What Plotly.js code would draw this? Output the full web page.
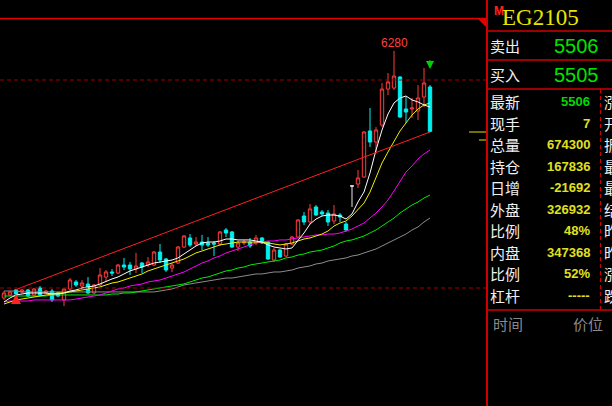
<!DOCTYPE html>
<html><head><meta charset="utf-8">
<script src="https://cdn.plot.ly/plotly-3.0.1.min.js"></script>
<style>html,body{margin:0;padding:0;background:#000;}#chart{width:612px;height:406px;}</style>
</head><body><div id="chart"></div>
<script>
// ---- data ----
const symbol = 'EG2105';
const openP  = [3904,3933,3981,3962,3981,3933,4000,3952,3971,3952,3885,3990,4058,4019,4038,3952,4029,4105,4154,4144,4221,4221,4183,4240,4221,4221,4346,4279,4192,4240,4394,4481,4423,4442,4433,4433,4423,4558,4539,4394,4433,4442,4433,4481,4442,4269,4365,4308,4423,4490,4692,4635,4779,4731,4721,4644,4702,4615,4981,5000,5067,5510,5404,5567,5913,5923,6029,5721,5721,5702,5837,5933];
const highP  = [3971,3971,3990,3990,3990,4000,4019,3981,3990,3962,4000,4096,4077,4077,4105,4038,4192,4173,4183,4231,4289,4250,4337,4250,4298,4356,4423,4289,4240,4404,4510,4519,4490,4510,4490,4452,4548,4577,4548,4452,4462,4481,4510,4490,4452,4385,4375,4433,4500,4663,4731,4808,4798,4750,4750,4798,4721,4635,4981,5135,5510,5731,5548,5971,6067,6280,6038,5837,5827,5952,6115,5952];
const lowP   = [3885,3923,3923,3952,3913,3923,3923,3942,3865,3913,3827,3981,4010,4000,3942,3942,4019,4058,4115,4135,4173,4125,4144,4144,4202,4211,4240,4154,4154,4231,4385,4394,4404,4365,4394,4308,4404,4490,4385,4356,4413,4385,4413,4423,4269,4250,4289,4298,4413,4481,4606,4615,4692,4692,4596,4615,4635,4539,4779,4962,5058,5356,5308,5548,5856,5904,5635,5587,5635,5615,5740,5496];
const closeP = [3952,3962,3942,3981,3923,3990,3933,3971,3885,3923,3990,4077,4029,4048,3952,4029,4125,4154,4144,4221,4202,4183,4211,4202,4250,4346,4269,4173,4221,4394,4500,4413,4442,4413,4413,4423,4539,4529,4394,4433,4442,4404,4481,4433,4279,4365,4298,4423,4490,4654,4635,4760,4702,4712,4635,4712,4683,4558,4981,5058,5500,5404,5519,5913,5981,6038,5644,5692,5731,5827,5971,5506];

const ma5  = [3866,3904,3933,3942,3952,3952,3952,3952,3942,3942,3952,3971,3981,4000,4010,4019,4039,4067,4087,4106,4135,4164,4183,4202,4221,4240,4250,4260,4269,4289,4327,4365,4404,4433,4442,4442,4452,4471,4471,4462,4462,4462,4452,4442,4414,4394,4385,4375,4385,4452,4529,4615,4663,4692,4702,4702,4692,4663,4712,4827,4923,5106,5327,5519,5673,5779,5827,5846,5808,5789,5760,5740];
const ma10 = [3846,3866,3885,3894,3904,3914,3923,3933,3942,3952,3952,3962,3971,3981,3991,4000,4010,4029,4048,4058,4077,4096,4115,4135,4164,4183,4202,4221,4240,4260,4279,4308,4337,4356,4375,4394,4414,4423,4433,4442,4442,4442,4442,4442,4433,4423,4414,4423,4433,4452,4471,4481,4500,4519,4548,4596,4625,4644,4692,4750,4817,4923,5058,5202,5308,5413,5510,5587,5663,5721,5760,5779];
const ma20 = [3866,3875,3875,3875,3875,3885,3885,3885,3885,3885,3885,3885,3894,3904,3914,3923,3933,3952,3971,3991,4000,4019,4029,4039,4058,4067,4077,4096,4115,4135,4154,4183,4212,4240,4260,4289,4308,4337,4356,4375,4394,4414,4433,4442,4452,4452,4462,4462,4471,4481,4490,4500,4510,4510,4519,4519,4529,4548,4567,4596,4625,4673,4721,4779,4846,4933,5029,5115,5173,5240,5289,5327];
const ma40 = [3923,3923,3923,3923,3923,3923,3923,3923,3933,3933,3933,3933,3933,3933,3933,3933,3933,3933,3942,3942,3952,3952,3962,3971,3981,3991,4000,4010,4019,4029,4039,4058,4077,4096,4106,4125,4144,4164,4173,4192,4202,4221,4231,4240,4250,4260,4269,4289,4298,4317,4327,4346,4356,4365,4385,4404,4433,4452,4462,4481,4500,4529,4558,4596,4635,4673,4721,4760,4798,4827,4865,4894];
const ma60 = [3971,3971,3971,3962,3962,3962,3962,3962,3962,3962,3962,3962,3962,3962,3962,3962,3962,3962,3962,3962,3962,3962,3962,3962,3962,3962,3971,3981,3991,4010,4029,4039,4048,4058,4067,4077,4087,4096,4096,4106,4115,4125,4135,4135,4144,4154,4154,4164,4173,4192,4202,4212,4231,4240,4260,4269,4279,4289,4308,4317,4337,4356,4375,4404,4433,4462,4490,4519,4558,4587,4635,4673];

const levelLines  = [6000, 4000];
const trendIdx    = [2, 71];
const trendPrice  = [3985, 5500];
const buySignalIdx  = [2];
const sellSignalIdx = [71];

const askLabel = '卖出', askPrice = '5506';
const bidLabel = '买入', bidPrice = '5505';
const quoteLabels = ['最新','现手','总量','持仓','日增','外盘','比例','内盘','比例','杠杆'];
const quoteValues = ['5506','7','674300','167836','-21692','326932','48%','347368','52%','-----'];
const sideLabels  = ['涨跌','开盘','振幅','最高','最低','结算','昨结','昨收','涨停','跌停'];
const footerLabels = ['时间','价位'];

// ---- build ----
const PW = 486, H = 406;
const px = x => x / PW;
const py = y => 1 - y / H;
const idx = openP.map((_, i) => i);
const flatIds = idx.filter(i => openP[i] === closeP[i]);
const normIds = idx.filter(i => openP[i] !== closeP[i]);
const pick = (arr, ids) => ids.map(i => arr[i]);

const RED = '#ff3c3c', CYAN = '#00f0f0';
const traces = [
  {type:'candlestick', x:pick(idx,normIds), open:pick(openP,normIds), high:pick(highP,normIds),
   low:pick(lowP,normIds), close:pick(closeP,normIds), whiskerwidth:0, hoverinfo:'skip', showlegend:false,
   increasing:{line:{color:RED,width:1}, fillcolor:'#000000'},
   decreasing:{line:{color:CYAN,width:1}, fillcolor:CYAN}},
  {type:'candlestick', x:pick(idx,flatIds), open:pick(openP,flatIds), high:pick(highP,flatIds),
   low:pick(lowP,flatIds), close:pick(closeP,flatIds), whiskerwidth:0, hoverinfo:'skip', showlegend:false,
   increasing:{line:{color:'#e8e8e8',width:1}, fillcolor:'#e8e8e8'},
   decreasing:{line:{color:'#e8e8e8',width:1}, fillcolor:'#e8e8e8'}},
];
const maDefs = [[ma60,'#8c8c8c'],[ma40,'#00ee00'],[ma20,'#ff00ff'],[ma10,'#f0f000'],[ma5,'#ffffff']];
maDefs.forEach(([arr,c]) => traces.push({type:'scatter', mode:'lines', x:idx, y:arr,
  line:{color:c,width:1}, hoverinfo:'skip', showlegend:false}));
traces.push({type:'scatter', mode:'lines', x:trendIdx, y:trendPrice,
  line:{color:'#ff2020',width:1}, hoverinfo:'skip', showlegend:false});

const panelRed = '#d00000';
const shapes = [
  {type:'line', xref:'paper', yref:'paper', x0:0, x1:1, y0:py(18.5), y1:py(18.5), line:{color:'#e00000',width:1.5}},
  {type:'path', xref:'paper', yref:'paper',
   path:`M${px(477)},${py(18)} L${px(486)},${py(18)} L${px(486)},${py(27)} Z`, fillcolor:'#e00000', line:{width:0}},
  {type:'line', xref:'paper', yref:'paper', x0:px(487), x1:px(487), y0:0, y1:1, line:{color:panelRed,width:2}},
  {type:'line', xref:'paper', yref:'paper', x0:px(469), x1:px(486), y0:py(132), y1:py(132), line:{color:'#e0e000',width:1}},
  {type:'line', xref:'paper', yref:'paper', x0:px(479), x1:px(486), y0:py(140), y1:py(140), line:{color:'#e0e000',width:1}},
  {type:'line', xref:'paper', yref:'paper', x0:px(600.5), x1:px(600.5), y0:py(89), y1:py(310), line:{color:panelRed,width:1,dash:'4px,3px'}},
];
[31, 60, 89, 310].forEach(y => shapes.push({type:'line', xref:'paper', yref:'paper',
  x0:px(486), x1:px(612), y0:py(y), y1:py(y), line:{color:panelRed,width:1.5}}));
levelLines.forEach(v => shapes.push({type:'line', xref:'paper', yref:'y', x0:0, x1:1, y0:v, y1:v,
  line:{color:'#a00000',width:1,dash:'4px,3px'}}));

const CJK = 'Noto Sans CJK SC';
const ann = [];
const txt = (x, y, text, font, xanchor) => ann.push({xref:'paper', yref:'paper', x:px(x), y:py(y), text,
  font, xanchor:xanchor||'left', yanchor:'middle', showarrow:false, borderpad:0});

// high label
let hiIdx = 0; highP.forEach((v,i)=>{ if (v > highP[hiIdx]) hiIdx = i; });
ann.push({x:hiIdx, y:highP[hiIdx], text:String(highP[hiIdx]), showarrow:false, yanchor:'bottom',
  xanchor:'center', borderpad:0, yshift:0, font:{family:'Liberation Sans', size:12, color:'#ff4040'}});
sellSignalIdx.forEach(i => ann.push({x:i, y:highP[i], text:'', showarrow:true, ax:0, ay:-10, yshift:16,
  arrowhead:2, arrowsize:0.8, arrowwidth:2, arrowcolor:'#00d000'}));
buySignalIdx.forEach(i => ann.push({x:i, y:lowP[i], text:'', showarrow:true, ax:0, ay:9, yshift:2,
  arrowhead:2, arrowsize:0.8, arrowwidth:2.5, arrowcolor:'#ff2020'}));

txt(493, 11, '<b>M</b>', {family:'Liberation Sans', size:12, color:'#ff2020'});
txt(501, 17.5, symbol, {family:'Liberation Serif', size:23, color:'#e6e600'});
txt(489, 46, askLabel, {family:CJK, size:15, color:'#f0f0f0'});
txt(600, 46, askPrice, {family:'Liberation Sans', size:20, color:'#00e400'}, 'right');
txt(489, 75, bidLabel, {family:CJK, size:15, color:'#f0f0f0'});
txt(600, 75, bidPrice, {family:'Liberation Sans', size:20, color:'#00e400'}, 'right');
quoteLabels.forEach((l, k) => {
  const y = 101.5 + 21.56 * k;
  txt(489, y, l, {family:CJK, size:15, color:'#f0f0f0'});
  txt(591, y, '<b>' + quoteValues[k] + '</b>', {family:'Liberation Sans', size:13, color: k === 0 ? '#00d800' : '#e0e020'}, 'right');
  txt(603, y, sideLabels[k], {family:CJK, size:15, color:'#f0f0f0'});
});
txt(492, 323, footerLabels[0], {family:CJK, size:15, color:'#8a8a8a'});
txt(604, 323, footerLabels[1], {family:CJK, size:15, color:'#8a8a8a'}, 'right');

const layout = {
  width:612, height:406, margin:{l:0, r:126, t:0, b:0},
  paper_bgcolor:'#000000', plot_bgcolor:'rgba(0,0,0,0)', showlegend:false, boxgap:0.2,
  xaxis:{range:[-4/6, 482/6], visible:false, showgrid:false, zeroline:false, rangeslider:{visible:false}, fixedrange:true},
  yaxis:{range:[2865.4, 6769.2], visible:false, showgrid:false, zeroline:false, fixedrange:true},
  shapes, annotations:ann
};
Plotly.newPlot('chart', traces, layout, {staticPlot:true, displayModeBar:false});
</script></body></html>
